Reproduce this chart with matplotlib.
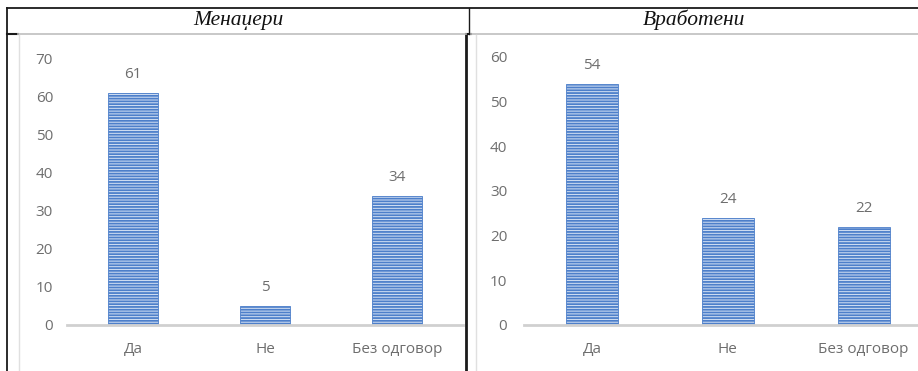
import matplotlib
matplotlib.use("Agg")
import matplotlib.pyplot as plt

# data
categories = ["Да", "Не", "Без одговор"]
managers = [61, 5, 34]
employees = [54, 24, 22]
titles = ["Менаџери", "Вработени"]

plt.rcParams['font.family'] = ['Open Sans', 'DejaVu Sans']
plt.rcParams['hatch.linewidth'] = 1.3

W, H = 918, 371
fig = plt.figure(figsize=(W / 100, H / 100), dpi=100)

# background layer in pixel coordinates for the table borders
bg = fig.add_axes([0, 0, 1, 1], zorder=0)
bg.set_xlim(0, W)
bg.set_ylim(H, 0)
bg.axis('off')
bg.plot([7, W], [8, 8], color='#1a1a1a', lw=1.3)
bg.plot([7, 7], [8, H], color='#1a1a1a', lw=1.3)
bg.plot([469, 469], [8, 34], color='#1a1a1a', lw=1.0)
bg.plot([466, 466], [34, H], color='#1a1a1a', lw=2.0)
bg.plot([466, 471], [34, 34], color='#1a1a1a', lw=1.5)
bg.plot([7, 18], [34, 34], color='#1a1a1a', lw=1.5)
bg.plot([18, 466], [34, 34], color='#bfbfbf', lw=1.2)
bg.plot([471, W], [34, 34], color='#bfbfbf', lw=1.2)
bg.plot([19, 19], [35, H], color='#e0e0e0', lw=1.0)
bg.plot([476, 476], [35, H], color='#e0e0e0', lw=1.0)
bg.text(238, 20, titles[0], ha='center', va='center', fontsize=15.5,
        family='Liberation Serif', style='italic', color='#111111')
bg.text(694, 20, titles[1], ha='center', va='center', fontsize=15.5,
        family='Liberation Serif', style='italic', color='#111111')


def bar_panel(rect, values, ymax, xmax, ypad):
    ax = fig.add_axes(rect, zorder=1)
    ax.patch.set_alpha(0)
    x = range(len(categories))
    ax.bar(x, values, width=0.385, color='#d6e2f4', edgecolor='#4d7fca',
           hatch='------', linewidth=0.6)
    for xi, v in zip(x, values):
        ax.annotate(str(v), (xi, v), xytext=(0, 8), textcoords='offset points',
                    ha='center', va='bottom', fontsize=11, color='#6e6e6e')
    ax.set_xlim(-0.5, xmax)
    ax.set_ylim(0, ymax)
    ax.set_yticks(range(0, ymax + 1, 10))
    ax.set_xticks(list(x))
    ax.set_xticklabels(categories)
    for s in ['top', 'right', 'left']:
        ax.spines[s].set_visible(False)
    ax.spines['bottom'].set_color('#d0d0d0')
    ax.spines['bottom'].set_linewidth(2)
    ax.tick_params(axis='y', length=0, pad=ypad, labelsize=11, labelcolor='#6e6e6e')
    ax.tick_params(axis='x', length=0, pad=12, labelsize=11, labelcolor='#6e6e6e')
    return ax


bar_panel([67 / W, (H - 325) / H, 396 / W, 266 / H], managers, 70, 2.5, 10)
bar_panel([524 / W, (H - 325) / H, 394 / W, 268 / H], employees, 60, 2.4, 12)

fig.savefig("out.png", dpi=100)
